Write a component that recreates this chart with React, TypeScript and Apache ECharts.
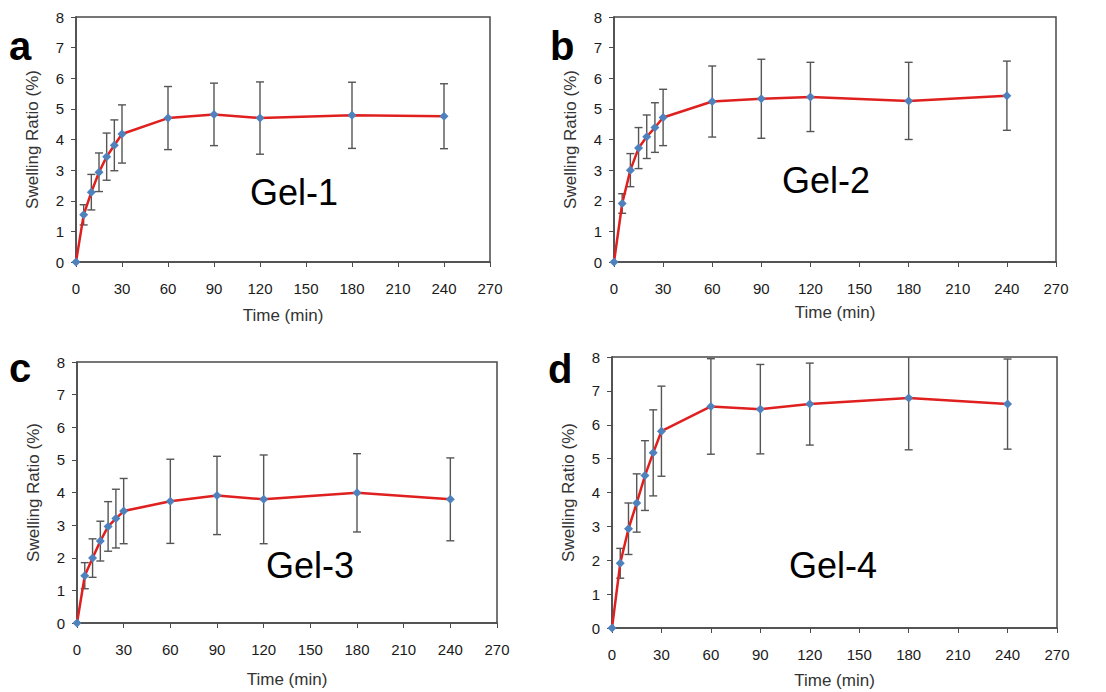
import React, { useEffect, useRef } from "react";
import * as echarts from "echarts";

const TIMES = [0, 5, 10, 15, 20, 25, 30, 60, 90, 120, 180, 240];
const X_TICKS = [0, 30, 60, 90, 120, 150, 180, 210, 240, 270];
const Y_MAX = 8;

const GEL1_MEAN = [0, 1.54, 2.28, 2.93, 3.44, 3.81, 4.18, 4.7, 4.82, 4.7, 4.79, 4.76];
const GEL1_ERR = [0, 0.33, 0.58, 0.63, 0.77, 0.83, 0.95, 1.03, 1.02, 1.18, 1.08, 1.06];

const GEL2_MEAN = [0, 1.91, 3.0, 3.72, 4.09, 4.39, 4.72, 5.24, 5.33, 5.39, 5.26, 5.43];
const GEL2_ERR = [0, 0.32, 0.54, 0.67, 0.71, 0.81, 0.92, 1.16, 1.29, 1.13, 1.26, 1.13];

const GEL3_MEAN = [0, 1.45, 1.99, 2.51, 2.96, 3.2, 3.43, 3.73, 3.91, 3.79, 3.99, 3.79];
const GEL3_ERR = [0, 0.4, 0.59, 0.61, 0.76, 0.9, 1.0, 1.29, 1.2, 1.36, 1.2, 1.27];

const GEL4_MEAN = [0, 1.91, 2.93, 3.69, 4.5, 5.17, 5.81, 6.54, 6.46, 6.61, 6.79, 6.61];
const GEL4_ERR = [0, 0.44, 0.76, 0.86, 1.03, 1.27, 1.33, 1.41, 1.32, 1.21, 1.53, 1.33];

const PANEL_LETTERS = ["a", "b", "c", "d"];
const GEL_NAMES = ["Gel-1", "Gel-2", "Gel-3", "Gel-4"];
const X_NAME = "Time (min)";
const Y_NAME = "Swelling Ratio (%)";

const MEANS = [GEL1_MEAN, GEL2_MEAN, GEL3_MEAN, GEL4_MEAN];
const ERRS = [GEL1_ERR, GEL2_ERR, GEL3_ERR, GEL4_ERR];

// layout (pixels)
const GRIDS = [
  { left: 76, top: 17, width: 414, height: 245, nameGap: 45 },
  { left: 614, top: 17, width: 442, height: 245, nameGap: 42 },
  { left: 77, top: 362, width: 420, height: 261, nameGap: 48 },
  { left: 612, top: 357, width: 445, height: 271, nameGap: 44 },
];
const LETTER_POS = [
  { x: 9, base: 60 },
  { x: 550, base: 60 },
  { x: 9, base: 382 },
  { x: 548, base: 383 },
];
const GEL_POS = [
  { x: 250, base: 205 },
  { x: 782, base: 193 },
  { x: 266, base: 578 },
  { x: 789, base: 578 },
];

const FONT = "'Liberation Sans', Arial, sans-serif";
const AXIS_COLOR = "#4a4a4a";

export default function App() {
  const ref = useRef<HTMLDivElement>(null);

  useEffect(() => {
    document.body.style.margin = "0";
    if (!ref.current) return;
    const chart = echarts.init(ref.current, undefined, { renderer: "svg" });

    const grid: any[] = [];
    const xAxis: any[] = [];
    const yAxis: any[] = [];
    const series: any[] = [];
    const graphic: any[] = [];

    GRIDS.forEach((g, i) => {
      grid.push({
        left: g.left,
        top: g.top,
        width: g.width,
        height: g.height,
        show: true,
        borderColor: AXIS_COLOR,
        borderWidth: 1.5,
        backgroundColor: "#ffffff",
      });
      xAxis.push({
        gridIndex: i,
        type: "value",
        min: 0,
        max: X_TICKS[X_TICKS.length - 1],
        interval: X_TICKS[1] - X_TICKS[0],
        name: X_NAME,
        nameLocation: "middle",
        nameGap: g.nameGap,
        nameTextStyle: { fontSize: 17, color: "#333", fontFamily: FONT },
        axisLine: { show: true, lineStyle: { color: AXIS_COLOR, width: 1.5 } },
        axisTick: { show: true, length: 5, inside: false, lineStyle: { color: AXIS_COLOR } },
        axisLabel: { fontSize: 15, color: "#1a1a1a", margin: 19, fontFamily: FONT },
        splitLine: { show: false },
      });
      yAxis.push({
        gridIndex: i,
        type: "value",
        min: 0,
        max: Y_MAX,
        interval: 1,
        name: Y_NAME,
        nameLocation: "middle",
        nameGap: 35,
        nameTextStyle: { fontSize: 17, color: "#333", fontFamily: FONT },
        axisLine: { show: true, lineStyle: { color: AXIS_COLOR, width: 1.5 } },
        axisTick: { show: true, length: 5, inside: false, lineStyle: { color: AXIS_COLOR } },
        axisLabel: { fontSize: 15, color: "#1a1a1a", margin: 12, fontFamily: FONT },
        splitLine: { show: false },
      });

      const errData = TIMES.map((t, k) => [t, MEANS[i][k] - ERRS[i][k], MEANS[i][k] + ERRS[i][k]]).filter(
        (_, k) => ERRS[i][k] > 0
      );
      series.push({
        type: "custom",
        xAxisIndex: i,
        yAxisIndex: i,
        data: errData,
        z: 2,
        renderItem: (params: any, api: any) => {
          const x = api.value(0);
          const lo = api.value(1);
          const hi = api.value(2);
          const clipped = hi > Y_MAX;
          const pLo = api.coord([x, lo]);
          const pHi = api.coord([x, clipped ? Y_MAX : hi]);
          const cap = 4;
          const st = { stroke: "#555555", lineWidth: 1.4 };
          const children: any[] = [
            { type: "line", shape: { x1: pLo[0], y1: pLo[1], x2: pHi[0], y2: pHi[1] }, style: st },
            { type: "line", shape: { x1: pLo[0] - cap, y1: pLo[1], x2: pLo[0] + cap, y2: pLo[1] }, style: st },
          ];
          if (!clipped) {
            children.push({
              type: "line",
              shape: { x1: pHi[0] - cap, y1: pHi[1], x2: pHi[0] + cap, y2: pHi[1] },
              style: st,
            });
          }
          return { type: "group", children };
        },
      });
      series.push({
        type: "line",
        name: GEL_NAMES[i],
        xAxisIndex: i,
        yAxisIndex: i,
        data: TIMES.map((t, k) => [t, MEANS[i][k]]),
        z: 3,
        symbol: "diamond",
        symbolSize: 9,
        itemStyle: { color: "#4f81bd" },
        lineStyle: { color: "#e01f1f", width: 2.5 },
      });

      const lf = 40;
      graphic.push({
        type: "text",
        x: LETTER_POS[i].x,
        y: LETTER_POS[i].base - 0.35 * lf,
        style: {
          text: PANEL_LETTERS[i],
          font: `bold ${lf}px ${FONT}`,
          fill: "#000",
          textVerticalAlign: "middle",
        },
      });
      const gf = 36;
      graphic.push({
        type: "text",
        x: GEL_POS[i].x,
        y: GEL_POS[i].base - 0.35 * gf,
        style: {
          text: GEL_NAMES[i],
          font: `${gf}px ${FONT}`,
          fill: "#000",
          textVerticalAlign: "middle",
        },
      });
    });

    chart.setOption({
      animation: false,
      backgroundColor: "#ffffff",
      grid,
      xAxis,
      yAxis,
      series,
      graphic,
    });

    return () => chart.dispose();
  }, []);

  return <div ref={ref} style={{ width: 1106, height: 692 }} />;
}
